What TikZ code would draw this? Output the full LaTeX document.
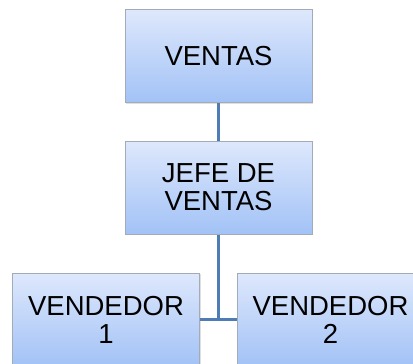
\documentclass[tikz,border=0pt]{standalone}
\usepackage{fontspec}
\setmainfont{Liberation Sans}
\usetikzlibrary{positioning,shadows,backgrounds}

\definecolor{boxtop}{HTML}{DEE8FC}
\definecolor{boxbot}{HTML}{A2C2F6}
\definecolor{boxline}{HTML}{A3AAB8}
\definecolor{linkline}{HTML}{4E7DB5}

\tikzset{
    unit/.style={draw=boxline, line width=1pt, top color=boxtop, bottom color=boxbot,
        minimum width=187pt, minimum height=93pt, inner sep=0pt, align=center,
        font=\fontsize{27.5}{28}\selectfont,
        drop shadow={opacity=0.25, shadow xshift=1pt, shadow yshift=-1pt}},
    link/.style={draw=linkline, line width=2.2pt}
}

\begin{document}
\begin{tikzpicture}[x=1pt,y=-1pt]
    % Frame
    \useasboundingbox (0,0) rectangle (413,364);%
    \clip (0,0) rectangle (413,364);%

    % Boxes
    \node[unit] (ventas) at (218.5,56) {VENTAS};%
    \node[unit] (jefe) at (218.5,187.5) {JEFE DE\\VENTAS};%
    \node[unit] (vend1) at (106,319.5) {VENDEDOR\\1};%
    \node[unit] (vend2) at (330.5,319.5) {VENDEDOR\\2};%

    % Connectors behind the boxes
    \begin{scope}[on background layer]
        \coordinate (fork) at (jefe |- vend1.east);%
        \draw[link] (ventas) -- (jefe);%
        \draw[link] (jefe) -- (fork);%
        \draw[link] (vend1) -- (vend2);%
    \end{scope}
\end{tikzpicture}
\end{document}
